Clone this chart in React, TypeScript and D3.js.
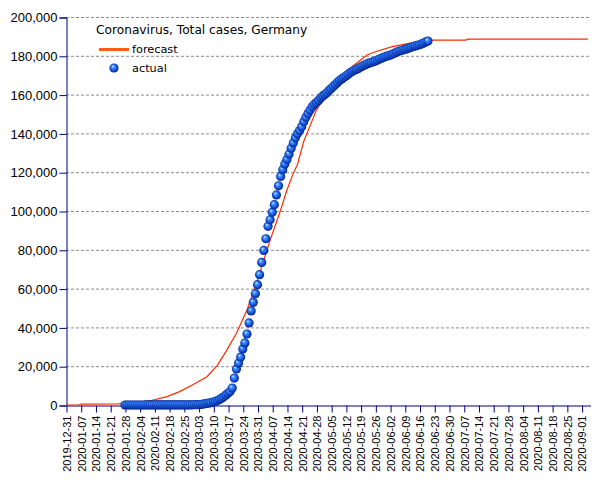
import { useRef, useEffect } from "react";
import * as d3 from "d3";

// actual daily totals, starting 2020-01-28
const actualStart = "2020-01-28";
const actualJan = [4, 4, 5, 7];
const actualFeb = [8, 10, 12, 12, 12, 12, 13, 14, 14, 16, 16, 16, 16, 16, 16, 16, 16, 16, 16, 16, 16, 16, 16, 16, 18, 21, 26, 53, 66];
const actualMar = [130, 160, 200, 260, 400, 640, 860, 1000, 1200, 1500, 1900, 2300, 2900, 3500, 4200, 5200, 6000, 7000, 8700, 13900, 18500, 21600, 24700, 28900, 32000, 36600, 42300, 48500, 52900, 57400, 62000];
const actualApr = [67200, 73500, 79700, 85700, 92100, 95500, 99300, 103250, 108300, 113000, 117800, 121300, 124200, 126600, 129300, 132300, 135100, 137700, 139800, 141500, 143400, 146000, 148300, 150200, 152000, 153700, 155000, 155900, 157000, 158300];
const actualMay = [159300, 160000, 161000, 162100, 163100, 164200, 165200, 166300, 167300, 168100, 168800, 169600, 170400, 171200, 171900, 172500, 173000, 173500, 174200, 174800, 175300, 175800, 176200, 176600, 176900, 177300, 177800, 178300, 178800, 179200, 179700];
const actualJun = [180000, 180300, 180800, 181300, 181800, 182300, 182600, 183000, 183300, 183600, 184000, 184400, 184800, 185100, 185400, 185700, 186100, 186600, 187200, 187600];

// forecast curve
const forecastDates = [
  "2019-12-31", "2020-01-06", "2020-01-07", "2020-01-25", "2020-01-27", "2020-02-07", "2020-02-09",
  "2020-02-17", "2020-02-23", "2020-02-29", "2020-03-07", "2020-03-12", "2020-03-16", "2020-03-21",
  "2020-03-26", "2020-03-30", "2020-04-03", "2020-04-06", "2020-04-11", "2020-04-14", "2020-04-17",
  "2020-04-19", "2020-04-22", "2020-04-25", "2020-04-28", "2020-05-01", "2020-05-05", "2020-05-06",
  "2020-05-14", "2020-05-22", "2020-05-26", "2020-06-03", "2020-06-11", "2020-06-19", "2020-06-21",
  "2020-06-22", "2020-07-08", "2020-07-09", "2020-09-04",
];
const forecastValues = [
  0, 0, 500, 600, 900, 1700, 2200,
  4300, 6900, 10300, 14600, 20600, 27500, 37000,
  49000, 61000, 74700, 85000, 100500, 110800, 119400,
  124000, 136000, 144000, 152000, 157500, 163500, 165800,
  173600, 180400, 182100, 184700, 186400, 187600, 187900,
  188100, 188100, 188600, 188600,
];

const yTicks = [0, 20000, 40000, 60000, 80000, 100000, 120000, 140000, 160000, 180000, 200000];
const xStart = "2019-12-31";
const xEnd = "2020-09-05";
const title = "Coronavirus, Total cases, Germany";

const NAVY = "#000080";

export default function App() {
  const svgRef = useRef<SVGSVGElement>(null);

  useEffect(() => {
    if (!svgRef.current) return;
    const svg = d3.select(svgRef.current);
    svg.selectAll("*").remove();

    const left = 66, right = 590, top = 17, bottom = 405;
    const parse = (s: string) => new Date(s + "T00:00:00Z");

    const x = d3.scaleUtc().domain([parse(xStart), parse(xEnd)]).range([left, right]);
    const y = d3.scaleLinear().domain([0, 200000]).range([bottom, top]);

    const actualValues = [...actualJan, ...actualFeb, ...actualMar, ...actualApr, ...actualMay, ...actualJun];
    const actual = actualValues.map((v, i) => ({ date: d3.utcDay.offset(parse(actualStart), i), value: v }));
    const forecast = forecastDates.map((d, i) => ({ date: parse(d), value: forecastValues[i] }));

    const defs = svg.append("defs");
    const grad = defs.append("radialGradient").attr("id", "ball")
      .attr("cx", "50%").attr("cy", "50%").attr("r", "55%").attr("fx", "35%").attr("fy", "30%");
    grad.append("stop").attr("offset", "0%").attr("stop-color", "#e6f0ff");
    grad.append("stop").attr("offset", "25%").attr("stop-color", "#4a9cff");
    grad.append("stop").attr("offset", "65%").attr("stop-color", "#1550d8");
    grad.append("stop").attr("offset", "100%").attr("stop-color", "#001a70");

    // grid
    svg.append("g").selectAll("line")
      .data(yTicks.filter((t) => t > 0))
      .enter().append("line")
      .attr("x1", left).attr("x2", right)
      .attr("y1", (d) => y(d) + 0.5).attr("y2", (d) => y(d) + 0.5)
      .attr("stroke", "#8c8c8c").attr("stroke-dasharray", "3,2").attr("stroke-width", 1);

    // y axis
    const yAxis = svg.append("g").attr("transform", `translate(${left + 0.5},0.5)`)
      .call(d3.axisLeft(y).tickValues(yTicks).tickSize(7).tickPadding(2).tickFormat(d3.format(",")));
    yAxis.selectAll("text").attr("fill", "#000").attr("font-size", 13)
      .attr("font-family", "'Liberation Sans', Arial, sans-serif");
    yAxis.selectAll("line, .domain").attr("stroke", NAVY);

    // x axis
    const xTicks = d3.range(36).map((i) => d3.utcDay.offset(parse(xStart), i * 7));
    const xAxis = svg.append("g").attr("transform", `translate(0.5,${bottom + 0.5})`)
      .call(d3.axisBottom(x).tickValues(xTicks).tickSize(7).tickSizeOuter(0)
        .tickFormat((d) => d3.utcFormat("%Y-%m-%d")(d as Date)));
    xAxis.selectAll("line, .domain").attr("stroke", NAVY);
    xAxis.selectAll("text")
      .attr("fill", "#000").attr("font-size", 11)
      .attr("font-family", "'Liberation Sans', Arial, sans-serif")
      .attr("transform", "rotate(-90)")
      .attr("text-anchor", "end")
      .attr("x", -10).attr("y", 0).attr("dy", "0.35em");

    // forecast line
    const line = d3.line<{ date: Date; value: number }>()
      .x((d) => x(d.date)).y((d) => y(d.value));
    svg.append("path").datum(forecast)
      .attr("fill", "none").attr("stroke", "#ff2a00").attr("stroke-width", 1.2)
      .attr("d", line);

    // actual dots
    svg.append("g").selectAll("circle")
      .data(actual)
      .enter().append("circle")
      .attr("cx", (d) => x(d.date)).attr("cy", (d) => y(d.value))
      .attr("r", 4.6).attr("fill", "url(#ball)");

    // legend
    const lg = svg.append("g").attr("font-family", "'DejaVu Sans', sans-serif").attr("font-size", 11);
    lg.append("text").attr("x", 96).attr("y", 34).attr("font-size", 12.2).text(title);
    lg.append("line").attr("x1", 99).attr("x2", 129).attr("y1", 49.5).attr("y2", 49.5)
      .attr("stroke", "#ff5a1e").attr("stroke-width", 3);
    lg.append("text").attr("x", 132).attr("y", 53).attr("font-size", 11.3).text("forecast");
    lg.append("circle").attr("cx", 114).attr("cy", 68).attr("r", 4.6).attr("fill", "url(#ball)");
    lg.append("text").attr("x", 132).attr("y", 72).attr("font-size", 11.3).text("actual");
  }, []);

  return (
    <svg ref={svgRef} width={605} height={480}
      style={{ position: "absolute", left: 0, top: 0, background: "#fff" }} />
  );
}
